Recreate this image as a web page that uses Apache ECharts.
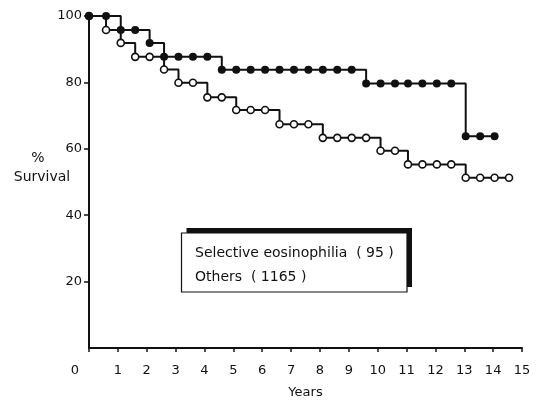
<!DOCTYPE html>
<html>
<head>
<meta charset="utf-8">
<script src="https://cdn.jsdelivr.net/npm/echarts@6/dist/echarts.min.js"></script>
<style>html,body{margin:0;padding:0;background:#fff}#c{width:539px;height:404px}</style>
</head>
<body>
<div id="c"></div>
<script>
// Selective eosinophilia (95) — filled circles
const selYears = [0, 0.59, 1.1, 1.6, 2.1, 2.6, 3.1, 3.6, 4.1, 4.6, 5.1, 5.6, 6.1, 6.6, 7.1, 7.6, 8.1, 8.6, 9.1, 9.6, 10.1, 10.6, 11.05, 11.55, 12.05, 12.55, 13.05, 13.55, 14.05];
const selSurvival = [100, 100, 95.8, 95.8, 91.9, 87.7, 87.7, 87.7, 87.7, 83.8, 83.8, 83.8, 83.8, 83.8, 83.8, 83.8, 83.8, 83.8, 83.8, 79.7, 79.7, 79.7, 79.7, 79.7, 79.7, 79.7, 63.8, 63.8, 63.8];
// Others (1165) — open circles
const othYears = [0, 0.59, 1.1, 1.6, 2.1, 2.6, 3.1, 3.6, 4.1, 4.6, 5.1, 5.6, 6.1, 6.6, 7.1, 7.6, 8.1, 8.6, 9.1, 9.6, 10.1, 10.6, 11.05, 11.55, 12.05, 12.55, 13.05, 13.55, 14.05, 14.55];
const othSurvival = [100, 95.8, 91.9, 87.7, 87.7, 83.9, 79.9, 79.9, 75.5, 75.5, 71.7, 71.7, 71.7, 67.4, 67.4, 67.4, 63.3, 63.3, 63.3, 63.3, 59.4, 59.4, 55.3, 55.3, 55.3, 55.3, 51.3, 51.3, 51.3, 51.3];
const seriesNames = ['Selective eosinophilia  ( 95 )', 'Others  ( 1165 )'];
const yTicks = [20, 40, 60, 80, 100];

const pairs = (xs, ys) => xs.map((x, i) => [x, ys[i]]);
const FONT = 'DejaVu Sans';
const chart = echarts.init(document.getElementById('c'), null, {renderer: 'canvas'});
chart.setOption({
  animation: false,
  backgroundColor: '#fff',
  textStyle: {fontFamily: FONT, color: '#111'},
  grid: {left: 89, right: 17, top: 16, bottom: 47},
  legend: {
    data: seriesNames,
    orient: 'vertical',
    left: 181, top: 233,
    padding: [12, 8, 8, 8],
    itemGap: 8,
    itemWidth: 0, itemHeight: 0,
    icon: 'rect',
    selectedMode: false,
    textStyle: {fontFamily: FONT, fontSize: 14, lineHeight: 16, color: '#111'}
  },
  graphic: [
    {type: 'rect', z: 1, shape: {x: 186.5, y: 228, width: 225.5, height: 59}, style: {fill: '#111'}},
    {type: 'rect', z: 2, shape: {x: 181.5, y: 233, width: 225.5, height: 59}, style: {fill: '#fff', stroke: '#111', lineWidth: 1.2}},
    {type: 'text', x: 38, y: 158, style: {text: '%', font: '14px ' + FONT, fill: '#111', align: 'center', verticalAlign: 'middle'}},
    {type: 'text', x: 42, y: 177, style: {text: 'Survival', font: '14px ' + FONT, fill: '#111', align: 'center', verticalAlign: 'middle'}}
  ],
  xAxis: {
    type: 'value', min: 0, max: 15, interval: 1,
    name: 'Years', nameLocation: 'middle', nameGap: 38,
    nameTextStyle: {fontFamily: FONT, fontSize: 13, color: '#111'},
    axisLine: {lineStyle: {color: '#111', width: 2}},
    axisTick: {show: true, length: 4, lineStyle: {color: '#111', width: 1.5}},
    splitLine: {show: false},
    axisLabel: {
      margin: 16, fontFamily: FONT, fontSize: 13, color: '#111',
      formatter: v => v === 0 ? '{z|0}' : String(v),
      rich: {z: {padding: [0, 28, 0, 0], fontFamily: FONT, fontSize: 13, color: '#111'}}
    }
  },
  yAxis: {
    type: 'value', min: 0, max: 100, interval: 20,
    axisLine: {show: true, lineStyle: {color: '#111', width: 2}},
    axisTick: {show: true, length: 5, lineStyle: {color: '#111', width: 1.5},
      customValues: yTicks},
    splitLine: {show: false},
    axisLabel: {
      margin: 7, fontFamily: FONT, fontSize: 13, color: '#111',
      customValues: yTicks
    }
  },
  series: [
    {
      name: seriesNames[1], type: 'line', step: 'end', clip: false, z: 2,
      data: pairs(othYears, othSurvival),
      symbol: 'circle', symbolSize: 7, showAllSymbol: true,
      lineStyle: {color: '#111', width: 2},
      itemStyle: {color: '#fff', borderColor: '#111', borderWidth: 1.6}
    },
    {
      name: seriesNames[0], type: 'line', step: 'end', clip: false, z: 3,
      data: pairs(selYears, selSurvival),
      symbol: 'circle', symbolSize: 8, showAllSymbol: true,
      lineStyle: {color: '#111', width: 2},
      itemStyle: {color: '#111', borderColor: '#111', borderWidth: 0}
    }
  ]
});
</script>
</body>
</html>
